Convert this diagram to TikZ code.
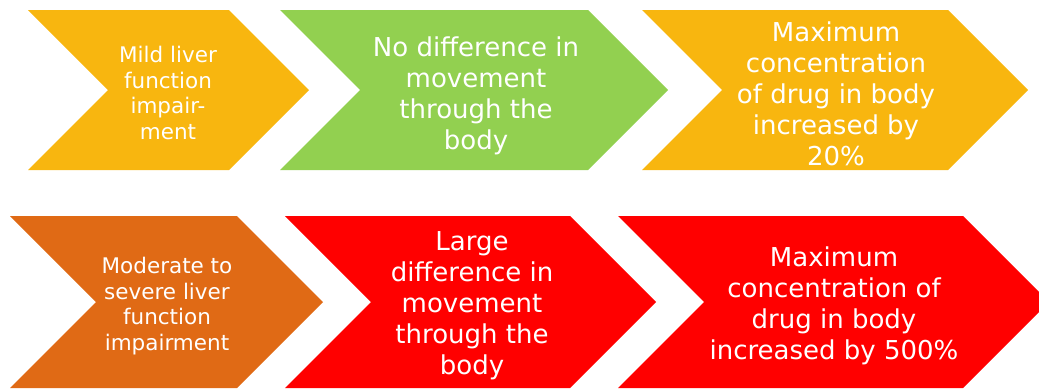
\documentclass[tikz,border=0pt]{standalone}
\usepackage{fontspec}
\setmainfont{DejaVu Sans}
\usepackage{tikz}
\definecolor{chgold}{HTML}{F8B60F}
\definecolor{chgreen}{HTML}{92D050}
\definecolor{chorange}{HTML}{E06A15}
\definecolor{chred}{HTML}{FF0000}

% colour, left x, corner x, top y, bottom y
\newcommand{\chevshape}[5]{%
  \fill[#1] (#2,#4) -- (#3,#4) -- ({#3+(#5-#4)/2},{(#4+#5)/2}) -- (#3,#5)
    -- (#2,#5) -- ({#2+(#5-#4)/2},{(#4+#5)/2}) -- cycle;}

\begin{document}
\begin{tikzpicture}[x=1pt, y=-1pt,
    lbl/.style={text=white, align=center, inner sep=0pt},
    small/.style={lbl, font=\fontsize{21.5}{25.5}\selectfont},
    big/.style={lbl, font=\fontsize{26}{31}\selectfont}
]
    \useasboundingbox (0,0) rectangle (1039,389);
    % top row
    \chevshape{chgold}{28}{229}{10}{170}
    \chevshape{chgreen}{280}{588}{10}{170}
    \chevshape{chgold}{642}{948}{10}{170}
    \node[small] (mild) at (168,93) {Mild liver\\function\\impair-\\ment};
    \node[big] (nodiff) at (476,96) {No difference in\\movement\\through the\\body};
    \node[big] (maxlow) at (836,94) {Maximum\\concentration\\of drug in body\\increased by\\20\%};
    % bottom row
    \chevshape{chorange}{10}{237}{216}{388}
    \chevshape{chred}{285}{570}{216}{388}
    \chevshape{chred}{618}{963}{216}{388}
    \node[small] (severe) at (167,306) {Moderate to\\severe liver\\function\\impairment};
    \node[big] (largediff) at (472,306) {Large\\difference in\\movement\\through the\\body};
    \node[big] (maxhigh) at (834,306) {Maximum\\concentration of\\drug in body\\increased by 500\%};
\end{tikzpicture}
\end{document}
